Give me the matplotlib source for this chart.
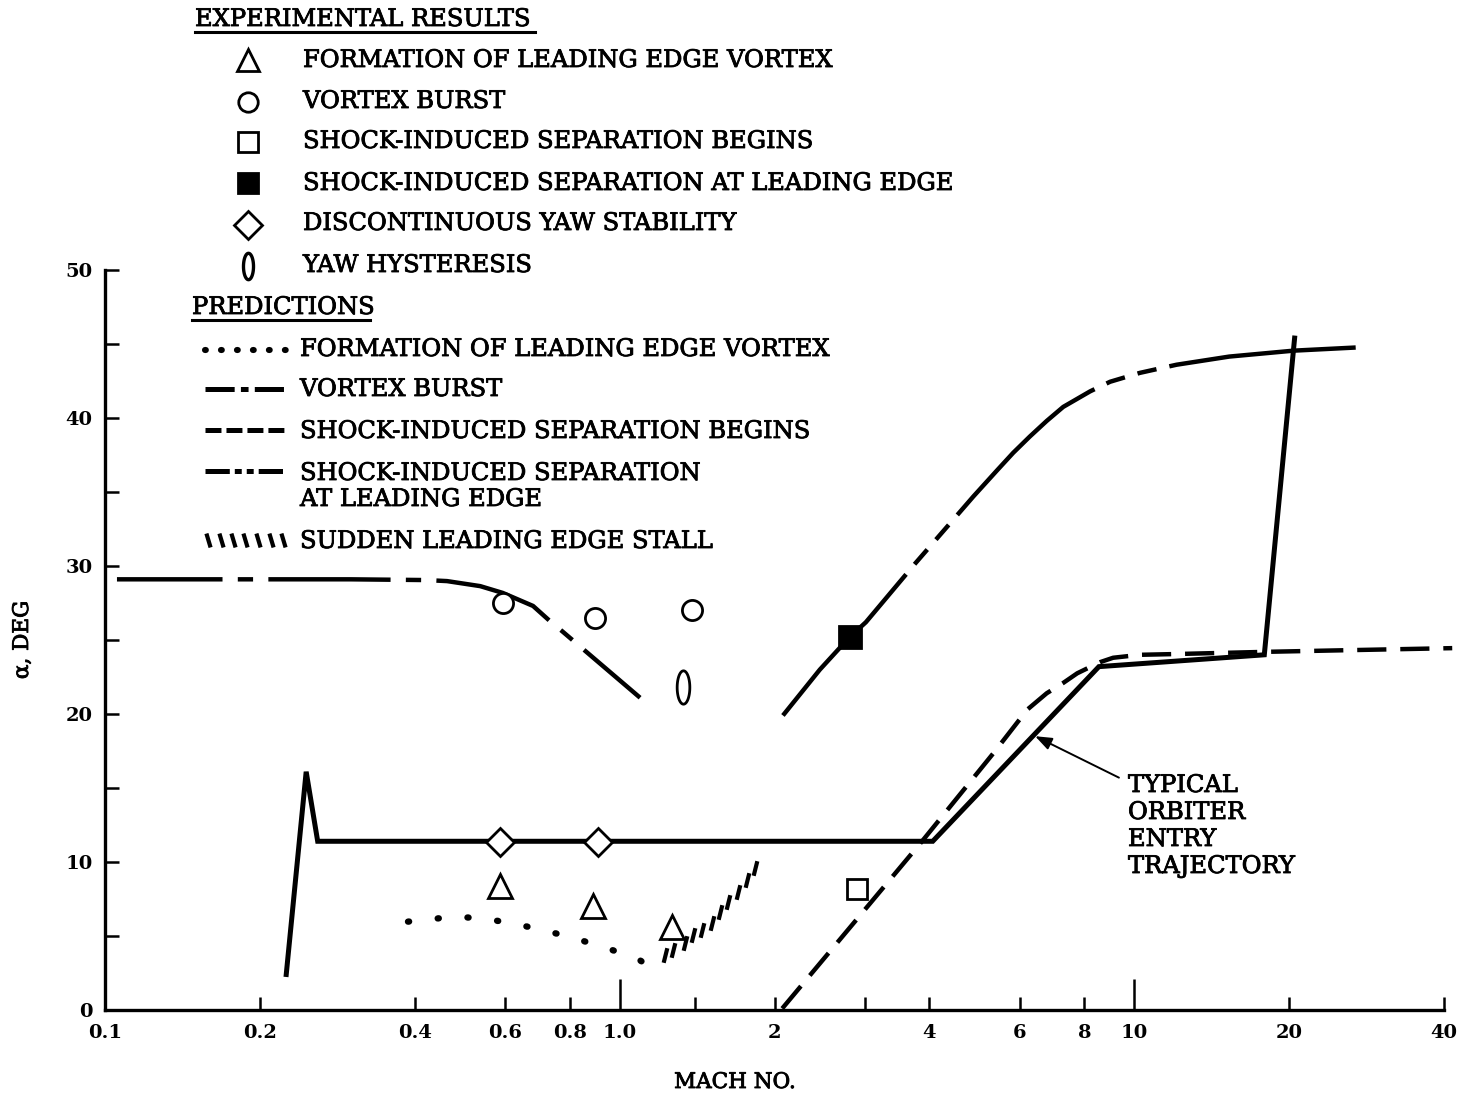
import numpy as np
import matplotlib
matplotlib.use("Agg")
import matplotlib.pyplot as plt
import matplotlib.patheffects as pe
from matplotlib.lines import Line2D
from matplotlib.path import Path

plt.rcParams["font.family"] = ["DejaVu Serif"]
plt.rcParams["lines.scale_dashes"] = False

# ---------------- data ----------------
# experimental results (Mach number, angle of attack in deg)
tri_mach = [0.586, 0.886, 1.267]
tri_alpha = [8.4, 7.0, 5.6]
circ_mach = [0.593, 0.896, 1.38]
circ_alpha = [27.5, 26.5, 27.0]
sq_open_mach = [2.89]
sq_open_alpha = [8.2]
sq_fill_mach = [2.80]
sq_fill_alpha = [25.2]
dia_mach = [0.586, 0.909]
dia_alpha = [11.35, 11.35]
hyst_mach = [1.33]
hyst_alpha = [21.8]

# predictions
lev_mach = [0.388, 0.475, 0.540, 0.618, 0.710, 0.819, 0.945, 1.081, 1.131]
lev_alpha = [5.97, 6.3, 6.2, 5.86, 5.4, 4.84, 4.17, 3.49, 3.04]

vb_mach = [0.1055, 0.30, 0.42, 0.462, 0.536, 0.593, 0.679, 0.742, 0.773, 1.096]
vb_alpha = [29.1, 29.1, 29.05, 28.98, 28.64, 28.18, 27.3, 26.1, 25.6, 21.1]

sb_mach = [2.07, 3.87, 5.34, 6.2, 6.76, 7.28, 7.75, 8.58, 9.1, 10.26, 12.0,
           18.0, 25.0, 41.5]
sb_alpha = [0.1, 11.4, 17.4, 20.3, 21.4, 22.1, 22.75, 23.5, 23.8, 24.0, 24.05,
            24.2, 24.3, 24.45]

le_mach = [2.077, 2.45, 2.80, 3.01, 3.76, 4.87, 5.41, 5.82, 6.27, 6.76, 7.28,
           8.21, 8.98, 10.26, 12.09, 15.3, 20.4, 28.3]
le_alpha = [19.9, 23.0, 25.2, 26.2, 30.2, 34.7, 36.45, 37.65, 38.75, 39.8, 40.75,
            41.8, 42.45, 43.05, 43.6, 44.15, 44.55, 44.8]

stall_mach = [1.225, 1.270, 1.340, 1.389, 1.446, 1.512, 1.567, 1.624, 1.698,
              1.769, 1.833]
stall_alpha = [3.7, 4.05, 4.5, 5.05, 5.4, 5.9, 6.6, 7.3, 7.95, 8.8, 9.6]

# typical orbiter entry trajectory
traj_mach = [0.225, 0.246, 0.259, 4.06, 8.54, 17.9, 20.5]
traj_alpha = [2.4, 16.1, 11.4, 11.4, 23.2, 24.0, 45.4]

# axis ticks
xmajor_vals = [1, 10]
xmajor_lbls = ["1.0", "10"]
xminor_vals = [0.1, 0.2, 0.4, 0.6, 0.8, 1.4, 2, 3, 4, 6, 8, 20, 40]
xminor_lbls = ["0.1", "0.2", "0.4", "0.6", "0.8", "", "2", "", "4", "6", "8",
               "20", "40"]
ymajor_vals = [0, 10, 20, 30, 40, 50]
yminor_vals = [5, 15, 25, 35, 45]

exp_labels = ["FORMATION OF LEADING EDGE VORTEX", "VORTEX BURST",
              "SHOCK-INDUCED SEPARATION BEGINS",
              "SHOCK-INDUCED SEPARATION AT LEADING EDGE",
              "DISCONTINUOUS YAW STABILITY", "YAW HYSTERESIS"]
pred_labels = ["FORMATION OF LEADING EDGE VORTEX", "VORTEX BURST",
               "SHOCK-INDUCED SEPARATION BEGINS",
               "SHOCK-INDUCED SEPARATION", "AT LEADING EDGE",
               "SUDDEN LEADING EDGE STALL"]
traj_label = ["TYPICAL", "ORBITER", "ENTRY", "TRAJECTORY"]

# ---------------- figure ----------------
W, H = 1459, 1097
fig = plt.figure(figsize=(W / 100, H / 100), dpi=100)


def fx(px):
    return px / W


def fy(py):
    return 1 - py / H


ax = fig.add_axes([fx(105), fy(1010), fx(1444) - fx(105), fy(270) - fy(1010)])
ax.set_xscale("log")
ax.set_xlim(0.1, 40)
ax.set_ylim(0, 50)
for s in ("top", "right"):
    ax.spines[s].set_visible(False)
for s in ("left", "bottom"):
    ax.spines[s].set_linewidth(2.4)

TICKFS = 14
ax.set_xticks(xmajor_vals, labels=xmajor_lbls, fontweight="bold", fontsize=TICKFS)
ax.set_xticks(xminor_vals, labels=xminor_lbls, minor=True, fontweight="bold",
              fontsize=TICKFS)
ax.set_yticks(ymajor_vals, labels=[str(v) for v in ymajor_vals],
              fontweight="bold", fontsize=TICKFS)
ax.set_yticks(yminor_vals, minor=True)
ax.tick_params(axis="x", which="major", direction="in", length=22, width=1.8, pad=10)
ax.tick_params(axis="x", which="minor", direction="in", length=9.5, width=1.8, pad=10)
ax.tick_params(axis="y", which="both", direction="in", length=10, width=1.8, pad=9)

LW = 3.2
MEW = 2.0
# prediction curves
ax.plot(lev_mach, lev_alpha, color="black", lw=4.6, dashes=(0.8, 20.7),
        dash_capstyle="round", zorder=2)
ax.plot(vb_mach, vb_alpha, color="black", lw=LW, ls=(12, (88, 11, 11, 11)),
        dash_capstyle="butt", zorder=2)
ax.plot(le_mach, le_alpha, color="black", lw=LW,
        dashes=(135, 9.5, 14, 9.5, 14, 9.5), dash_capstyle="butt", zorder=2)
ax.plot(sb_mach, sb_alpha, color="black", lw=LW, dashes=(21, 10),
        dash_capstyle="butt", clip_on=False, zorder=2)

stroke_fwd = Path([(-0.25, -1.0), (0.25, 1.0)], [Path.MOVETO, Path.LINETO])
stroke_back = Path([(-0.3, 1.0), (0.3, -1.0)], [Path.MOVETO, Path.LINETO])
ax.plot(stall_mach, stall_alpha, ls="none", marker=stroke_fwd, ms=10.5,
        mew=3.0, mec="black", zorder=2)

# trajectory
ax.plot(traj_mach, traj_alpha, color="black", lw=3.6, solid_joinstyle="miter",
        zorder=2)

# experimental markers
ax.plot(tri_mach, tri_alpha, ls="none", marker="^", ms=17, mfc="white",
        mec="black", mew=MEW, zorder=4)
ax.plot(circ_mach, circ_alpha, ls="none", marker="o", ms=14.5, mfc="white",
        mec="black", mew=MEW, zorder=4)
ax.plot(sq_open_mach, sq_open_alpha, ls="none", marker="s", ms=14.5,
        mfc="white", mec="black", mew=MEW, zorder=4)
ax.plot(sq_fill_mach, sq_fill_alpha, ls="none", marker="s", ms=15.5,
        mfc="black", mec="black", mew=MEW, zorder=4)
ax.plot(dia_mach, dia_alpha, ls="none", marker="D", ms=14.5, mfc="white",
        mec="black", mew=MEW, zorder=4)

tt = np.linspace(0, 2 * np.pi, 73)
ellipse = Path(np.column_stack([0.38 * np.cos(tt), np.sin(tt)]), closed=True)
ax.plot(hyst_mach, hyst_alpha, ls="none", marker=ellipse, ms=24, mfc="white",
        mec="black", mew=MEW, zorder=4)

FS = 17.4
heavy = [pe.withStroke(linewidth=0.6, foreground="black")]

# annotation for the trajectory
ax.annotate("", xy=(6.42, 18.5), xytext=(9.34, 15.7),
            arrowprops=dict(arrowstyle="-|>,head_length=1.0,head_width=0.38",
                            color="black", lw=1.4, shrinkA=0, shrinkB=0))


# ---------------- key and labels ----------------
def ftext(x, y, s, **kw):
    fig.text(fx(x), fy(y), s, ha="left", va="baseline", fontsize=FS,
             path_effects=heavy, **kw)


def fline(x0, x1, y, **kw):
    fig.add_artist(Line2D([fx(x0), fx(x1)], [fy(y), fy(y)],
                          transform=fig.transFigure, color="black", **kw))


def fmark(x, y, **kw):
    style = dict(ls="none", mec="black", mew=MEW)
    style.update(kw)
    fig.add_artist(Line2D([fx(x)], [fy(y)], transform=fig.transFigure, **style))


for lbl, yb in zip(traj_label, [792, 819, 846, 873]):
    ftext(1128, yb, lbl)

fig.text(fx(22), fy(640), "\u03b1, DEG", rotation=90, ha="center",
         va="center", fontsize=15.5, path_effects=heavy)
fig.text(fx(735), fy(1082), "MACH NO.", ha="center", va="center",
         fontsize=15.5, path_effects=heavy)

ftext(195, 26, "EXPERIMENTAL RESULTS")
fline(195, 535, 32, lw=2.2)
exp_base = [67, 108, 148, 190, 230, 272]
exp_mark_y = [60, 102, 142, 183, 225, 266]
for lbl, yb in zip(exp_labels, exp_base):
    ftext(303, yb, lbl)
fmark(248, exp_mark_y[0], marker="^", ms=16, mfc="white")
fmark(248, exp_mark_y[1], marker="o", ms=14, mfc="white")
fmark(248, exp_mark_y[2], marker="s", ms=14, mfc="white")
fmark(248, exp_mark_y[3], marker="s", ms=15, mfc="black")
fmark(248, exp_mark_y[4], marker="D", ms=14, mfc="white")
fmark(248, exp_mark_y[5], marker=ellipse, ms=19, mfc="white", mew=2.4)

ftext(192, 314, "PREDICTIONS")
fline(192, 370, 320, lw=2.2)
pred_base = [356, 396, 438, 480, 506, 548]
for lbl, yb in zip(pred_labels, pred_base):
    ftext(300, yb, lbl)

fline(205, 287, 350, lw=4.4, dashes=(0.6, 10.9), dash_capstyle="round")
fline(205, 287, 389, lw=3.6, dashes=(21, 4.5, 5.5, 4.5), dash_capstyle="butt")
fline(205, 287, 430, lw=3.6, dashes=(11.5, 3.6), dash_capstyle="butt")
fline(205, 287, 471, lw=3.6, dashes=(17.5, 3.6, 5, 3.6, 5, 3.6),
      dash_capstyle="butt")
for k in range(7):
    fmark(208 + k * 12.5, 540, marker=stroke_back, ms=10, mew=3.0)

fig.savefig("out.png", dpi=100, facecolor="white")
